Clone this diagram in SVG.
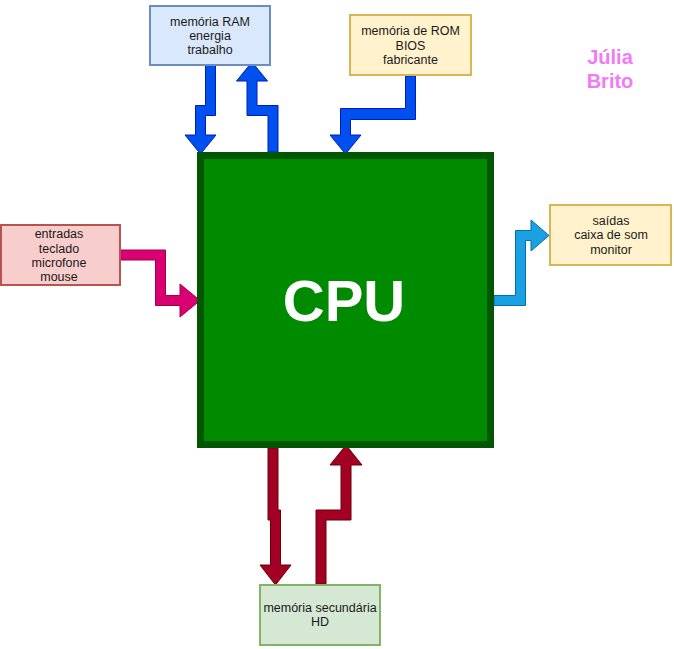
<svg xmlns="http://www.w3.org/2000/svg" width="674" height="649" viewBox="0 0 674 649">
<style>
  .box { stroke-width: 2; }
  .t { font-family: "Liberation Sans", Arial, Helvetica, sans-serif; font-size: 12.5px; fill: #1a1a1a; text-anchor: middle; }
  .blue { fill: #0050ef; stroke: #001DBC; stroke-width: 1; }
  .pink { fill: #d80073; stroke: #A50040; stroke-width: 1; }
  .cyan { fill: #1ba1e2; stroke: #006EAF; stroke-width: 1; }
  .red { fill: #a20025; stroke: #6F0000; stroke-width: 1; }
</style>
<rect width="674" height="649" fill="#ffffff"/>

<g id="connectors">
  <polygon class="blue" points="205.5,65 205.5,105.5 195.5,105.5 195.5,135 185,135 200.5,154 216,135 205.5,135 205.5,115.5 215.5,115.5 215.5,65"/>
  <polygon class="blue" points="268,152 268,115.5 247,115.5 247,81 236.5,81 252,62 267.5,81 257,81 257,105.5 278,105.5 278,152"/>
  <polygon class="blue" points="405.5,76 405.5,108.5 340.5,108.5 340.5,135 330,135 345.5,154 361,135 350.5,135 350.5,119.5 415.5,119.5 415.5,76"/>
  <polygon class="pink" points="120,250 165.5,250 165.5,295.5 180,295.5 180,284 200,300.5 180,317 180,305.5 155.5,305.5 155.5,260 120,260"/>
  <polygon class="cyan" points="494,295.5 515.5,295.5 515.5,230.5 531,230.5 531,220 549,235.5 531,251 531,240.5 525.5,240.5 525.5,305.5 494,305.5"/>
  <polygon class="red" points="268,448 268,520 270.5,520 270.5,565 260,565 275.5,585 291,565 280.5,565 280.5,510 278,510 278,448"/>
  <polygon class="red" points="316,584 316,510 341,510 341,465 330,465 346,445 362,465 351,465 351,520 326,520 326,584"/>
</g>

<g id="cpu">
  <rect x="200.5" y="155.5" width="290" height="289" fill="#008a00" stroke="#005700" stroke-width="7"/>
  <text x="344" y="321" font-family="Liberation Sans, Arial, sans-serif" font-size="58" font-weight="bold" fill="#ffffff" text-anchor="middle">CPU</text>
</g>

<g id="ram">
  <rect class="box" x="150" y="6" width="120" height="59" fill="#dae8fc" stroke="#6c8ebf"/>
  <text class="t" x="210" y="26">memória RAM</text>
  <text class="t" x="210" y="40">energia</text>
  <text class="t" x="210" y="54">trabalho</text>
</g>

<g id="rom">
  <rect class="box" x="350" y="15" width="121" height="60" fill="#fff2cc" stroke="#d6b656"/>
  <text class="t" x="410.5" y="35">memória de ROM</text>
  <text class="t" x="410.5" y="49.5">BIOS</text>
  <text class="t" x="410.5" y="64">fabricante</text>
</g>

<g id="entradas">
  <rect class="box" x="1" y="225" width="119" height="60" fill="#f8cecc" stroke="#b85450"/>
  <text class="t" x="59" y="238">entradas</text>
  <text class="t" x="59" y="252.5">teclado</text>
  <text class="t" x="59" y="267">microfone</text>
  <text class="t" x="59" y="281">mouse</text>
</g>

<g id="saidas">
  <rect class="box" x="550" y="205" width="121" height="60" fill="#fff2cc" stroke="#d6b656"/>
  <text class="t" x="611" y="225">saídas</text>
  <text class="t" x="611" y="239">caixa de som</text>
  <text class="t" x="611" y="254">monitor</text>
</g>

<g id="secundaria">
  <rect class="box" x="260" y="585" width="120" height="60" fill="#d5e8d4" stroke="#82b366"/>
  <text class="t" x="320" y="612">memória secundária</text>
  <text class="t" x="320" y="626">HD</text>
</g>

<g id="autor">
  <text x="610" y="64" font-family="Liberation Sans, Arial, sans-serif" font-size="20" font-weight="bold" fill="#F27AF2" text-anchor="middle">Júlia</text>
  <text x="610" y="88" font-family="Liberation Sans, Arial, sans-serif" font-size="20" font-weight="bold" fill="#F27AF2" text-anchor="middle">Brito</text>
</g>
</svg>
